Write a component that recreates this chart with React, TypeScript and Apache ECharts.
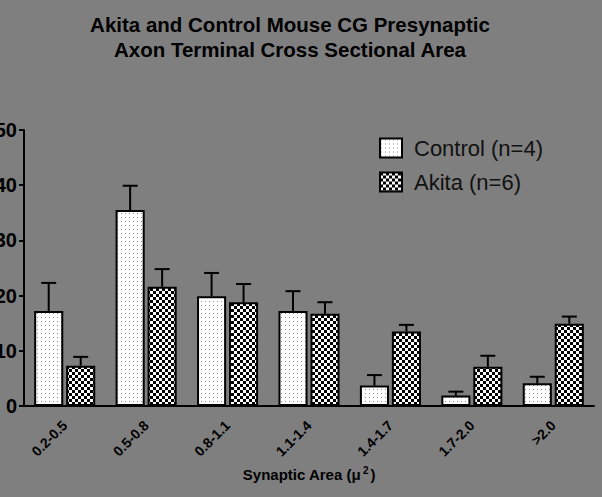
import React, { useEffect, useRef } from "react";
import * as echarts from "echarts";

const categories = ["0.2-0.5", "0.5-0.8", "0.8-1.1", "1.1-1.4", "1.4-1.7", "1.7-2.0", ">2.0"];
const controlMeans = [17.2, 35.5, 19.9, 17.2, 3.7, 1.9, 4.1];
const controlErr = [5.1, 4.4, 4.2, 3.6, 1.9, 0.7, 1.2];
const akitaMeans = [7.3, 21.6, 18.8, 16.7, 13.5, 7.1, 14.9];
const akitaErr = [1.6, 3.2, 3.3, 2.1, 1.2, 2.0, 1.3];
const yTicks = [0, 10, 20, 30, 40, 50];
const seriesNames = ["Control (n=4)", "Akita (n=6)"];

function makeDots(): HTMLCanvasElement {
  const c = document.createElement("canvas");
  c.width = 4;
  c.height = 4;
  const ctx = c.getContext("2d")!;
  ctx.fillStyle = "#ffffff";
  ctx.fillRect(0, 0, 4, 4);
  ctx.fillStyle = "#8a8a8a";
  ctx.fillRect(1, 1, 1, 1);
  return c;
}

function makeChecker(): HTMLCanvasElement {
  const c = document.createElement("canvas");
  c.width = 6;
  c.height = 6;
  const ctx = c.getContext("2d")!;
  ctx.fillStyle = "#ffffff";
  ctx.fillRect(0, 0, 6, 6);
  ctx.fillStyle = "#000000";
  ctx.fillRect(0, 0, 3, 3);
  ctx.fillRect(3, 3, 3, 3);
  return c;
}

const BAR_CAT_GAP = 0.25;
const BAR_GAP = 0.1;

export default function App() {
  const ref = useRef<HTMLDivElement>(null);
  useEffect(() => {
    if (!ref.current) return;
    const chart = echarts.init(ref.current, null, { renderer: "svg" });
    const dots = { image: makeDots(), repeat: "repeat", imageWidth: 4, imageHeight: 4 } as any;
    const checker = { image: makeChecker(), repeat: "repeat", imageWidth: 6, imageHeight: 6 } as any;

    const errSeries = (name: string, means: number[], errs: number[], sign: number) => ({
      name,
      type: "custom",
      z: 5,
      encode: { x: 0, y: 1 },
      data: means.map((m, i) => [i, m, errs[i]]),
      renderItem: (params: any, api: any) => {
        const idx = api.value(0);
        const mean = api.value(1);
        const err = api.value(2);
        const catW = api.size([1, 0])[0];
        const barW = (catW * (1 - BAR_CAT_GAP)) / (2 + BAR_GAP);
        const off = (barW * (1 + BAR_GAP)) / 2;
        const base = api.coord([idx, mean]);
        const top = api.coord([idx, mean + err]);
        const x = base[0] + sign * off;
        const style = { stroke: "#000", lineWidth: 2 };
        return {
          type: "group",
          children: [
            { type: "line", shape: { x1: x, y1: base[1], x2: x, y2: top[1] }, style },
            { type: "line", shape: { x1: x - 7.5, y1: top[1], x2: x + 7.5, y2: top[1] }, style },
          ],
        };
      },
    });

    chart.setOption({
      animation: false,
      backgroundColor: "#7f7f7f",
      textStyle: { fontFamily: "Liberation Sans, Arial, sans-serif" },
      title: {
        text: "Akita and Control Mouse CG Presynaptic\nAxon Terminal Cross Sectional Area",
        left: 285,
        top: 7,
        textAlign: "center",
        textStyle: { fontSize: 20.5, fontWeight: "bold", color: "#000", lineHeight: 25 },
      },
      legend: {
        data: seriesNames,
        orient: "vertical",
        left: 374,
        top: 132,
        itemWidth: 22,
        itemHeight: 19,
        itemGap: 12,
        icon: "rect",
        itemStyle: { borderColor: "#000", borderWidth: 2 },
        textStyle: { fontSize: 22, color: "#111", padding: [0, 0, 0, 7] },
      },
      grid: { left: 24, right: 8, top: 130, bottom: 91, outerBoundsMode: "none", containLabel: false },
      xAxis: {
        type: "category",
        data: categories,
        name: "{a|Synaptic Area (μ}{s|2}{a|)}",
        nameLocation: "middle",
        nameGap: 58,
        nameTextStyle: {
          rich: {
            a: { fontSize: 15, fontWeight: "bold", color: "#000" },
            s: { fontSize: 10, fontWeight: "bold", color: "#000", verticalAlign: "top", padding: [0, 2, 8, 2] },
          },
        },
        axisLine: { lineStyle: { color: "#000", width: 2 } },
        axisTick: { alignWithLabel: true, length: 5, lineStyle: { color: "#000", width: 2 } },
        axisLabel: { rotate: 45, fontSize: 14, fontWeight: "bold", color: "#000", margin: 17, interval: 0 },
      },
      yAxis: {
        type: "value",
        min: yTicks[0],
        max: yTicks[yTicks.length - 1],
        interval: 10,
        splitLine: { show: false },
        axisLine: { show: true, lineStyle: { color: "#000", width: 2 } },
        axisTick: { show: true, length: 5, lineStyle: { color: "#000", width: 2 } },
        axisLabel: { fontSize: 20, fontWeight: "bold", color: "#000", margin: 7 },
      },
      series: [
        {
          name: seriesNames[0],
          type: "bar",
          data: controlMeans,
          barGap: `${BAR_GAP * 100}%`,
          barCategoryGap: `${BAR_CAT_GAP * 100}%`,
          itemStyle: { color: dots, borderColor: "#000", borderWidth: 2 },
        },
        {
          name: seriesNames[1],
          type: "bar",
          data: akitaMeans,
          barGap: `${BAR_GAP * 100}%`,
          barCategoryGap: `${BAR_CAT_GAP * 100}%`,
          itemStyle: { color: checker, borderColor: "#000", borderWidth: 2 },
        },
        errSeries("ctrlErr", controlMeans, controlErr, -1),
        errSeries("akitaErr", akitaMeans, akitaErr, 1),
      ],
    });
    return () => chart.dispose();
  }, []);
  return <div ref={ref} style={{ width: 602, height: 497, position: "absolute", left: 0, top: 0 }} />;
}
